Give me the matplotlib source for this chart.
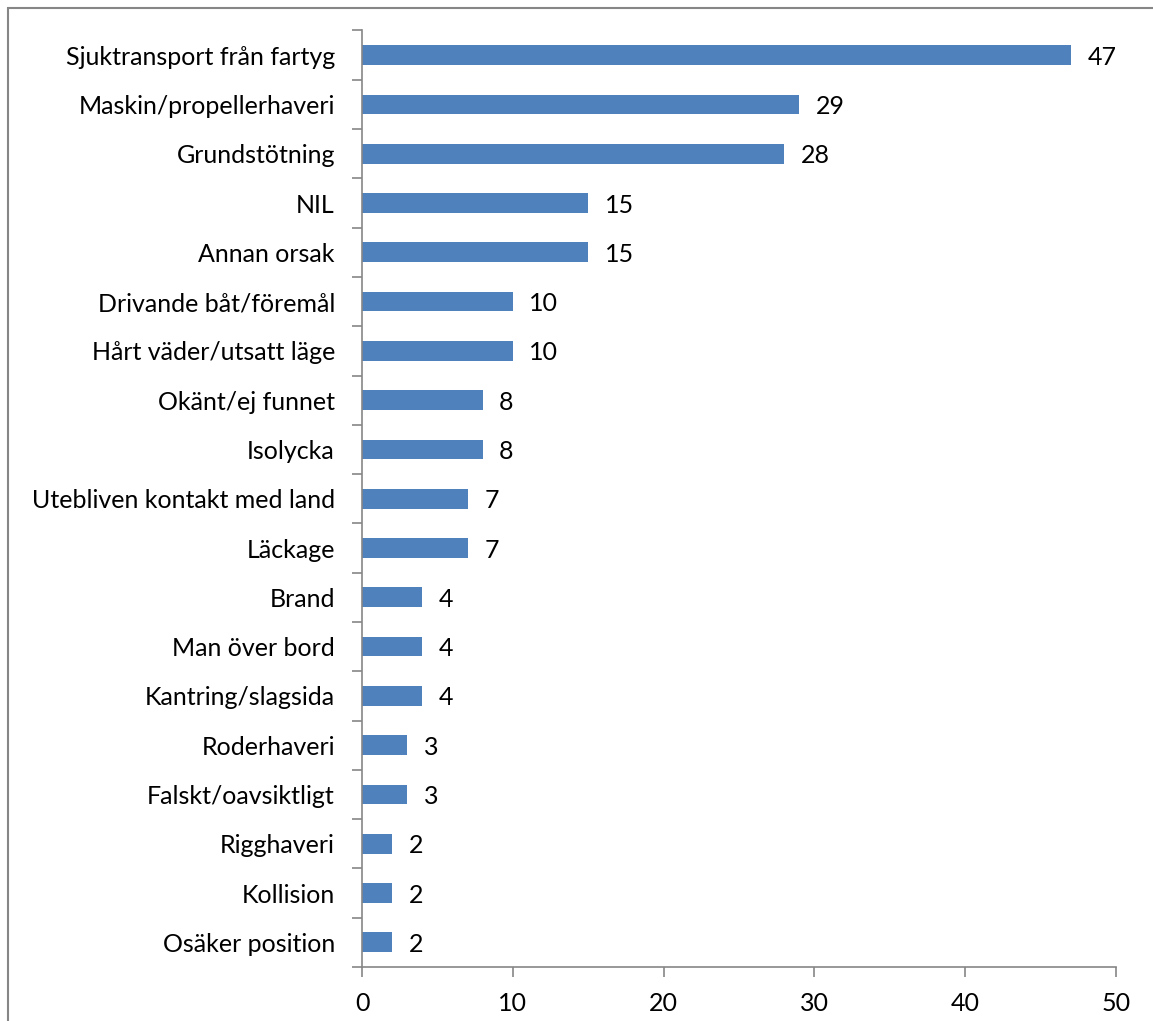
import matplotlib
matplotlib.use("Agg")
import matplotlib.pyplot as plt
from matplotlib.patches import Rectangle
import numpy as np

categories = [
    "Sjuktransport från fartyg", "Maskin/propellerhaveri", "Grundstötning", "NIL",
    "Annan orsak", "Drivande båt/föremål", "Hårt väder/utsatt läge", "Okänt/ej funnet",
    "Isolycka", "Utebliven kontakt med land", "Läckage", "Brand", "Man över bord",
    "Kantring/slagsida", "Roderhaveri", "Falskt/oavsiktligt", "Rigghaveri",
    "Kollision", "Osäker position",
]
values = [47, 29, 28, 15, 15, 10, 10, 8, 8, 7, 7, 4, 4, 4, 3, 3, 2, 2, 2]
x_ticks = [0, 10, 20, 30, 40, 50]

plt.rcParams["font.family"] = ["Lato", "DejaVu Sans"]
axis_color = "#868686"
fs = 18

fig = plt.figure(figsize=(11.53, 10.21), dpi=100)
# ram runt diagramytan (beskuren i höger- och nederkant)
fig.add_artist(Rectangle((8 / 1153, -0.1), 1.2, 1 - 8 / 1021 + 0.1,
                         transform=fig.transFigure, fill=False,
                         edgecolor=axis_color, linewidth=1.5))
ax = fig.add_axes([362 / 1153, 54 / 1021, (1116 - 362) / 1153, (967 - 30.5) / 1021])

y = np.arange(len(categories))
ax.barh(y, values, height=0.4, color="#4F81BD")
for yi, v in zip(y, values):
    ax.text(v + 1.1, yi, str(v), va="center_baseline", ha="left", fontsize=fs)

ax.set_xlim(0, 50)
ax.set_ylim(len(categories) - 0.5, -0.5)
ax.set_xticks(x_ticks)
ax.set_xticklabels([str(t) for t in x_ticks], fontsize=fs)
ax.xaxis.set_tick_params(length=7, color=axis_color, width=1.2, pad=11)

ax.set_yticks(y)
ax.set_yticklabels(categories, fontsize=fs)
ax.yaxis.set_tick_params(length=0, pad=19.5)
ax.set_yticks(np.arange(len(categories) + 1) - 0.5, minor=True)
ax.yaxis.set_tick_params(which="minor", length=7, color=axis_color, width=1.2)

for side in ("top", "right"):
    ax.spines[side].set_visible(False)
for side in ("left", "bottom"):
    ax.spines[side].set_color(axis_color)
    ax.spines[side].set_linewidth(1.2)

fig.savefig("out.png")
